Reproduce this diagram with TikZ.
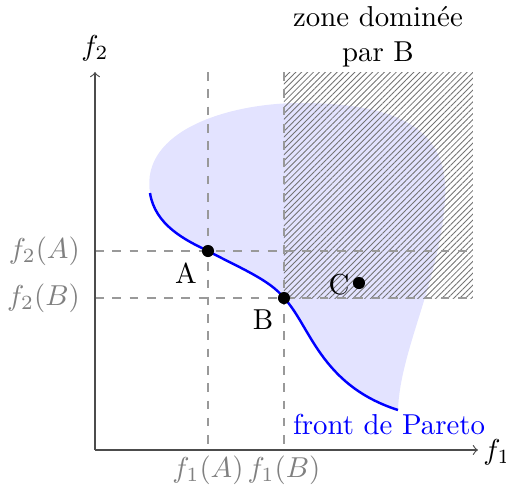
\documentclass[tikz,border=0pt]{standalone}
\usetikzlibrary{patterns.meta}
\begin{document}
\begin{tikzpicture}[x=0.347pt,y=-0.347pt,
  grid/.style={black!40,dashed},
  axis/.style={black!70,->},
  lab/.style={gray},
  dot/.style={circle,fill=black,inner sep=0pt,minimum size=4.2pt},
  front/.style={blue,line width=0.85pt}]
\useasboundingbox (0,0) rectangle (506,492);
% region
\fill[blue!11] (398,410) .. controls (320,385) and (310,325) .. (284,298)
  .. controls (270,280) and (240,268) .. (208,251)
  .. controls (185,240) and (155,225) .. (150,193)
  .. controls (140,130) and (230,103) .. (300,103)
  .. controls (400,103) and (450,130) .. (445,200)
  .. controls (440,280) and (400,350) .. (398,410) -- cycle;
% dominated zone
\fill[pattern={Lines[angle=45,distance=1.45pt,line width=0.3pt]},pattern color=black!55] (284,72) rectangle (473,298);
% dashed guides
\coordinate (vA0) at (208,72); \coordinate (vA1) at (208,450);
\coordinate (vB0) at (284,72); \coordinate (vB1) at (284,450);
\coordinate (hA0) at (95,251); \coordinate (hA1) at (473,251);
\coordinate (hB0) at (95,298); \coordinate (hB1) at (473,298);
\draw[grid] (vA0) -- (vA1);
\draw[grid] (vB0) -- (vB1);
\draw[grid] (hA0) -- (hA1);
\draw[grid] (hB0) -- (hB1);
% axes
\coordinate (O) at (95,450);
\coordinate (X) at (478,450);
\coordinate (Y) at (95,72);
\draw[axis] (O) -- (X);
\draw[axis] (O) -- (Y);
\node (f1) at (497,452) {$f_1$};
\node (f2) at (95,48) {$f_2$};
% pareto front
\coordinate (P0) at (150,193);
\coordinate (P1) at (398,410);
\draw[front] (P0) .. controls (155,225) and (185,240) .. (208,251)
  .. controls (240,268) and (270,280) .. (284,298)
  .. controls (310,325) and (320,385) .. (P1);
% points
\node[dot] (A) at (208,251) {};
\node[dot] (B) at (284,298) {};
\node[dot] (C) at (359,283) {};
\node (Alab) at (186,273) {A};
\node (Blab) at (263,320) {B};
\node (Clab) at (339,285) {C};
% axis value labels
\node[lab,anchor=east] (f2A) at (90,251) {$f_2(A)$};
\node[lab,anchor=east] (f2B) at (90,298) {$f_2(B)$};
\node[lab] (f1A) at (208,470) {$f_1(A)$};
\node[lab] (f1B) at (284,470) {$f_1(B)$};
% texts
\node[align=center] (zone) at (378,37) {zone dominée\\par B};
\node[blue] (pareto) at (389,424) {front de Pareto};
\end{tikzpicture}
\end{document}
